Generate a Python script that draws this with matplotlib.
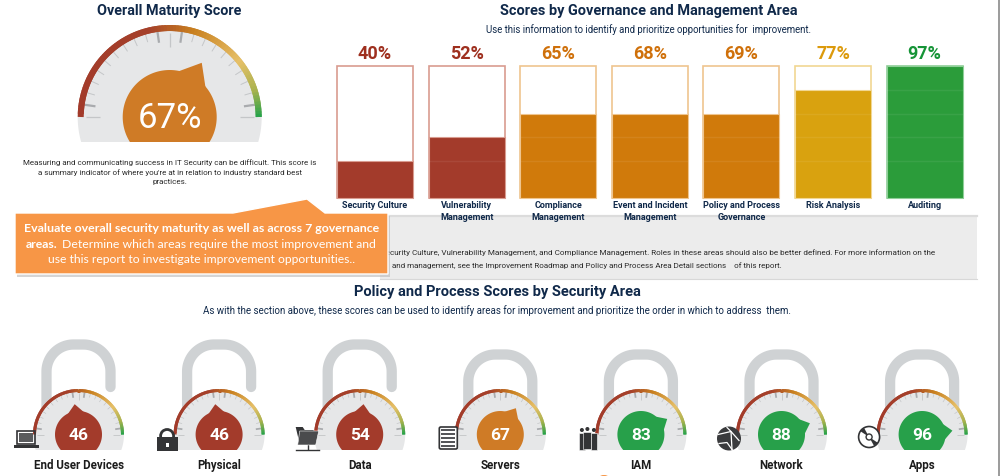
import matplotlib
matplotlib.use('Agg')
import matplotlib.pyplot as plt
import numpy as np
from matplotlib.collections import LineCollection
from matplotlib.colors import LinearSegmentedColormap
from matplotlib.patches import Circle, Polygon, Rectangle, FancyBboxPatch

# Data***************************************************************
areas = ['Security Culture', 'Vulnerability\nManagement', 'Compliance\nManagement',
         'Event and Incident\nManagement', 'Policy and Process\nGovernance',
         'Risk Analysis', 'Auditing']
area_scores = [40, 52, 65, 68, 69, 77, 97]
area_fill = [28, 46, 64, 64, 64, 82, 100]    # the bars fill in steps, not to the score
fill_steps = [28, 46, 64, 82]

overall_score = 67

security_areas = ['End User Devices', 'Physical', 'Data', 'Servers', 'IAM', 'Network', 'Apps']
security_scores = [46, 46, 54, 67, 83, 88, 96]

# Styles*************************************************************
NAVY = '#10294a'
FONT = 'Roboto'
gauge_cmap = LinearSegmentedColormap.from_list('gauge', [
    (0.0, '#a23a2a'), (0.42, '#a5402a'), (0.58, '#c9801f'), (0.78, '#e6c068'),
    (0.9, '#a9b24e'), (1.0, '#1fa24a')])


def band(score):
    '''Returns fill, text and outline colours for a score.'''
    if score < 60:
        return '#a33b2b', '#9e2f1e', '#d99c90'
    if score < 75:
        return '#d07a0b', '#cf700a', '#efc58f'
    if score < 90:
        return '#d9a20f', '#dc9a0c', '#f1d792'
    return '#2b9c3a', '#169437', '#8fcf98'


def gauge_color(score):
    if score < 60:
        return '#a33b2b'
    if score < 75:
        return '#cf7b26'
    return '#27a04a'


def clipped_circle(ax, cx, cy, r, bottom, color, z):
    '''Circle with everything below the y pixel "bottom" cut away.'''
    a = np.arcsin(min(1, (bottom - cy) / r))
    t = np.linspace(-a, np.pi + a, 150)
    ax.add_patch(Polygon(np.c_[cx + r * np.cos(t), cy - r * np.sin(t)],
                         closed=True, fc=color, ec='none', zorder=z))


def draw_gauge(ax, cx, cy, r, bottom, score, blob_r, arc_w, tip=1.34):
    clipped_circle(ax, cx, cy, r, bottom, '#e6e7e8', 2)
    k = r / 92

    # tick marks
    for i in range(23):
        t = np.pi - i * np.pi / 22
        if i in (0, 11, 22):
            r0, r1, lw, c = 70, 84, 0.9 * max(k, 0.7), '#c4c6c8'
        elif i in (1, 10, 12, 21):
            r0, r1, lw, c = 75, 86, 1.6 * max(k, 0.8), '#a9abae'
        else:
            r0, r1, lw, c = 78, 86, 0.7 * max(k, 0.7), '#c4c6c8'
        ax.plot([cx + k * r0 * np.cos(t), cx + k * r1 * np.cos(t)],
                [cy - k * r0 * np.sin(t), cy - k * r1 * np.sin(t)],
                color=c, lw=lw, solid_capstyle='butt', zorder=3)

    # coloured rim, segments overlap a little so no seams show
    s = np.linspace(0, 1, 91)
    t = np.pi * (1 - s)
    rr = r - arc_w / 2
    pts = np.c_[cx + rr * np.cos(t), cy - rr * np.sin(t)]
    ends = np.minimum(np.arange(1, len(pts)) + 1, len(pts) - 1)
    segs = np.stack([pts[:-1], pts[ends]], axis=1)
    ax.add_collection(LineCollection(segs, colors=gauge_cmap(s[:-1]), linewidths=arc_w * 0.72,
                                     capstyle='butt', zorder=4))

    # score blob with its pointer
    color = gauge_color(score)
    clipped_circle(ax, cx, cy, blob_r, bottom, color, 5)
    a = np.pi * (1 - score / 100)
    w = 0.36
    ax.add_patch(Polygon([(cx + blob_r * 0.98 * np.cos(a + w), cy - blob_r * 0.98 * np.sin(a + w)),
                          (cx + blob_r * tip * np.cos(a), cy - blob_r * tip * np.sin(a)),
                          (cx + blob_r * 0.98 * np.cos(a - w), cy - blob_r * 0.98 * np.sin(a - w))],
                         closed=True, fc=color, ec='none', zorder=5))


def draw_shackle(ax, cx, cy, top, open_lock):
    '''Grey padlock shackle; an open one stops short of the body on the right.'''
    hw, rc = 32, 27
    end = 387 if open_lock else cy - 20
    t = np.linspace(np.pi, np.pi / 2, 25)
    left = np.c_[cx - hw + rc + rc * np.cos(t), top + rc - rc * np.sin(t)]
    t = np.linspace(np.pi / 2, 0, 25)
    right = np.c_[cx + hw - rc + rc * np.cos(t), top + rc - rc * np.sin(t)]
    pts = np.vstack([[(cx - hw, cy)], left, right, [(cx + hw, end)]])
    ax.plot(pts[:, 0], pts[:, 1], color='#cfd2d4', lw=7.4, solid_capstyle='round',
            solid_joinstyle='round', zorder=1)


# Icons, drawn by hand in pixels, all relative to the gauge centre
DARK = '#333436'


def icon_laptop(ax, x):
    ax.add_patch(Rectangle((x - 62, 431), 18, 13, fc='none', ec=DARK, lw=1.2, zorder=6))
    ax.add_patch(Rectangle((x - 60, 433), 14, 9, fc='#5a5b5d', ec='none', zorder=6))
    ax.add_patch(Rectangle((x - 65, 445), 25, 2.5, fc=DARK, ec='none', zorder=6))


def icon_padlock(ax, x):
    ax.add_patch(Circle((x - 52, 436), 6.5, fc='none', ec=DARK, lw=2, zorder=6))
    ax.add_patch(Rectangle((x - 62, 437), 21, 14, fc=DARK, ec='none', zorder=7))
    ax.add_patch(Rectangle((x - 53, 443), 2.5, 4, fc='white', ec='none', zorder=8))


def icon_folder(ax, x):
    ax.add_patch(Polygon([(x - 64, 427), (x - 57, 427), (x - 55, 430), (x - 46, 430),
                          (x - 46, 444), (x - 60, 444)], closed=True, fc=DARK, ec='none', zorder=6))
    ax.add_patch(Polygon([(x - 60, 431), (x - 41, 431), (x - 44, 445), (x - 62, 445)],
                         closed=True, fc='#4a4b4d', ec='white', lw=0.4, zorder=7))
    ax.plot([x - 52, x - 52], [445, 449], color=DARK, lw=1, zorder=6)
    ax.plot([x - 64, x - 41], [449.5, 449.5], color=DARK, lw=1, zorder=6)


def icon_servers(ax, x):
    ax.add_patch(FancyBboxPatch((x - 61, 427), 18, 22, boxstyle='round,pad=0,rounding_size=1.5',
                                fc='white', ec=DARK, lw=1.2, zorder=6))
    for k in range(5):
        ax.add_patch(Rectangle((x - 59, 429 + k * 4), 14, 2.4, fc='#55565a', ec='none', zorder=7))


def icon_people(ax, x):
    for dx, top, hw in ((-59, 434, 3), (-53.5, 433, 4), (-47, 434, 3)):
        ax.add_patch(Circle((x + dx, top - 4), 2, fc=DARK, ec='none', zorder=6))
        ax.add_patch(Rectangle((x + dx - hw, top - 1), 2 * hw, 17, fc=DARK, ec='white', lw=0.4, zorder=6))


def icon_globe(ax, x):
    gx, gy = x - 52.5, 438.5
    ax.add_patch(Circle((gx, gy), 12, fc='#3a3b3d', ec='none', zorder=6))
    ax.plot([gx - 11, gx + 2, gx + 10], [gy - 4, gy - 7, gy + 2], color='white', lw=0.9, zorder=7)
    ax.plot([gx - 2, gx + 2, gx + 3], [gy - 11, gy - 7, gy + 11], color='white', lw=0.9, zorder=7)
    ax.plot([gx - 10, gx - 2, gx + 3], [gy + 5, gy + 4, gy + 11], color='white', lw=0.9, zorder=7)


def icon_disc(ax, x):
    gx, gy = x - 53, 437
    ax.add_patch(Circle((gx, gy), 10.5, fc='white', ec=DARK, lw=1.2, zorder=6))
    ax.add_patch(Polygon([(gx, gy), (gx - 9, gy - 6), (gx - 5, gy - 9)], closed=True, fc=DARK, ec='none', zorder=7))
    ax.add_patch(Polygon([(gx, gy), (gx + 9, gy + 6), (gx + 5, gy + 9)], closed=True, fc=DARK, ec='none', zorder=7))
    ax.add_patch(Circle((gx, gy), 3, fc='white', ec=DARK, lw=1, zorder=8))


icons = [icon_laptop, icon_padlock, icon_folder, icon_servers, icon_people, icon_globe, icon_disc]

# Main***************************************************************
fig = plt.figure(figsize=(10, 4.76), dpi=100, facecolor='white')
ax = fig.add_axes([0, 0, 1, 1])
ax.set_xlim(0, 1000)
ax.set_ylim(476, 0)
ax.axis('off')

# Left gauge
ax.text(169, 11, 'Overall Maturity Score', ha='center', va='center', color=NAVY,
        fontsize=10.4, fontweight='bold', family=FONT)
draw_gauge(ax, 169.7, 117, 92, 142, overall_score, 47, 6)
ax.text(169.5, 119, f'{overall_score}%', ha='center', va='center', color='white',
        fontsize=25, family=FONT, zorder=8)
ax.text(169.5, 172, 'Measuring and communicating success in IT Security can be difficult. This score is\n'
        'a summary indicator of where you\'re at in relation to industry standard best\npractices.',
        ha='center', va='center', fontsize=5.75, color='#2b2b2b', family=FONT, linespacing=1.53)

# Area headings
ax.text(649, 11, 'Scores by Governance and Management Area', ha='center', va='center', color=NAVY,
        fontsize=10.45, fontweight='bold', family=FONT)
ax.text(649, 30, 'Use this information to identify and prioritize opportunities for  improvement.',
        ha='center', va='center', color=NAVY, fontsize=6.95, family=FONT)

# Grey summary panel
ax.add_patch(Rectangle((380, 215), 597, 64, fc='#ececec', ec='none', zorder=0))
ax.plot([380, 977], [215.5, 215.5], color='#dcdcdc', lw=1.6, zorder=0.5)
ax.plot([380, 977], [279, 279], color='#d8d8d8', lw=0.8, zorder=0.5)
ax.text(935, 253, 'Security Culture, Vulnerability Management, and Compliance Management. Roles in these '
        'areas should also be better defined. For more information on the',
        ha='right', va='center', fontsize=5.82, color='#2b2b2b', family=FONT, zorder=1)
ax.text(392, 265.5, 'and management, see the Improvement Roadmap and Policy and Process Area Detail '
        'sections    of this report.', ha='left', va='center', fontsize=5.75, color='#2b2b2b',
        family=FONT, zorder=1)

# Orange callout
ax.add_patch(Polygon([(17, 216), (235, 216), (309, 202), (327, 216), (390, 216), (390, 277), (17, 277)],
                     closed=True, fc='#b9b9b9', ec='none', alpha=0.6, zorder=9))
ax.add_patch(Polygon([(15, 213), (233, 213), (307, 199), (325, 213), (388, 213), (388, 274), (15, 274)],
                     closed=True, fc='#f79646', ec='white', lw=1, zorder=10))
ax.text(201.5, 228.5, 'Evaluate overall security maturity as well as across 7 governance', ha='center',
        va='center', color='white', fontsize=8.9, fontweight='bold', family='Lato', zorder=11)
ax.text(26, 244, 'areas.', ha='left', va='center', color='white', fontsize=8.8, fontweight='bold',
        family='Lato', zorder=11)
ax.text(376, 244, 'Determine which areas require the most improvement and', ha='right', va='center',
        color='white', fontsize=8.8, family='Lato', zorder=11)
ax.text(201.5, 259.5, 'use this report to investigate improvement opportunities..', ha='center',
        va='center', color='white', fontsize=8.75, family='Lato', zorder=11)

# Lower section headings
ax.text(497, 292, 'Policy and Process Scores by Security Area', ha='center', va='center', color=NAVY,
        fontsize=10.5, fontweight='bold', family=FONT)
ax.text(497, 311, 'As with the section above, these scores can be used to identify areas for improvement '
        'and prioritize the order in which to address  them.', ha='center', va='center', color=NAVY,
        fontsize=7.0, family=FONT)

# Padlock gauges
for i, (name, score) in enumerate(zip(security_areas, security_scores)):
    cx = 78.5 + 140.6 * i
    top = 344.5 if i < 3 else 354.5
    draw_shackle(ax, cx, 434, top, i < 3)
    draw_gauge(ax, cx, 434.5, 45.5, 450, score, 23.5, 3, tip=1.3)
    ax.text(cx, 436, str(score), ha='center', va='center', color='white', fontsize=12.5,
            fontweight='bold', family=FONT, zorder=8)
    ax.text(cx, 469, name, ha='center', va='baseline', color='#1c1c1c', fontsize=8.3,
            fontweight='bold', family=FONT)
    icons[i](ax, cx)

# Page edge and the top of the next section's marker
ax.plot([999, 999], [0, 476], color='#8a8a8a', lw=1.2, zorder=1)
ax.add_patch(Circle((604, 484), 9, fc='#f79646', ec='none', zorder=1))

# Bars
bar_ax = fig.add_axes([329.2 / 1000, (476 - 198) / 476, 641.2 / 1000, 132 / 476])
bar_ax.set_xlim(-0.5, 6.5)
bar_ax.set_ylim(0, 100)
bar_ax.patch.set_alpha(0)
for side in bar_ax.spines.values():
    side.set_visible(False)
bar_ax.set_yticks([])
x = np.arange(len(areas))
fills = [band(s)[0] for s in area_scores]
texts = [band(s)[1] for s in area_scores]
edges = [band(s)[2] for s in area_scores]
bar_ax.bar(x, [100] * len(x), width=0.83, color='white', edgecolor=edges, linewidth=1.2, clip_on=False)
bar_ax.bar(x, area_fill, width=0.83, color=fills, edgecolor=edges, linewidth=0.8, clip_on=False)
for i, fill in enumerate(area_fill):
    for step in fill_steps:
        if step < fill:
            bar_ax.plot([i - 0.41, i + 0.41], [step, step], color='white', alpha=0.07, lw=1)
    bar_ax.text(i, 109, f'{area_scores[i]}%', ha='center', va='center', color=texts[i],
                fontsize=13, fontweight='bold', family=FONT, clip_on=False)
bar_ax.set_xticks(x, areas)
bar_ax.tick_params(axis='x', length=0, pad=2)
for lab in bar_ax.get_xticklabels():
    lab.set(color=NAVY, fontsize=6.5, fontweight='bold', family=FONT, linespacing=1.52, va='top')

fig.savefig('out.png', dpi=100)
